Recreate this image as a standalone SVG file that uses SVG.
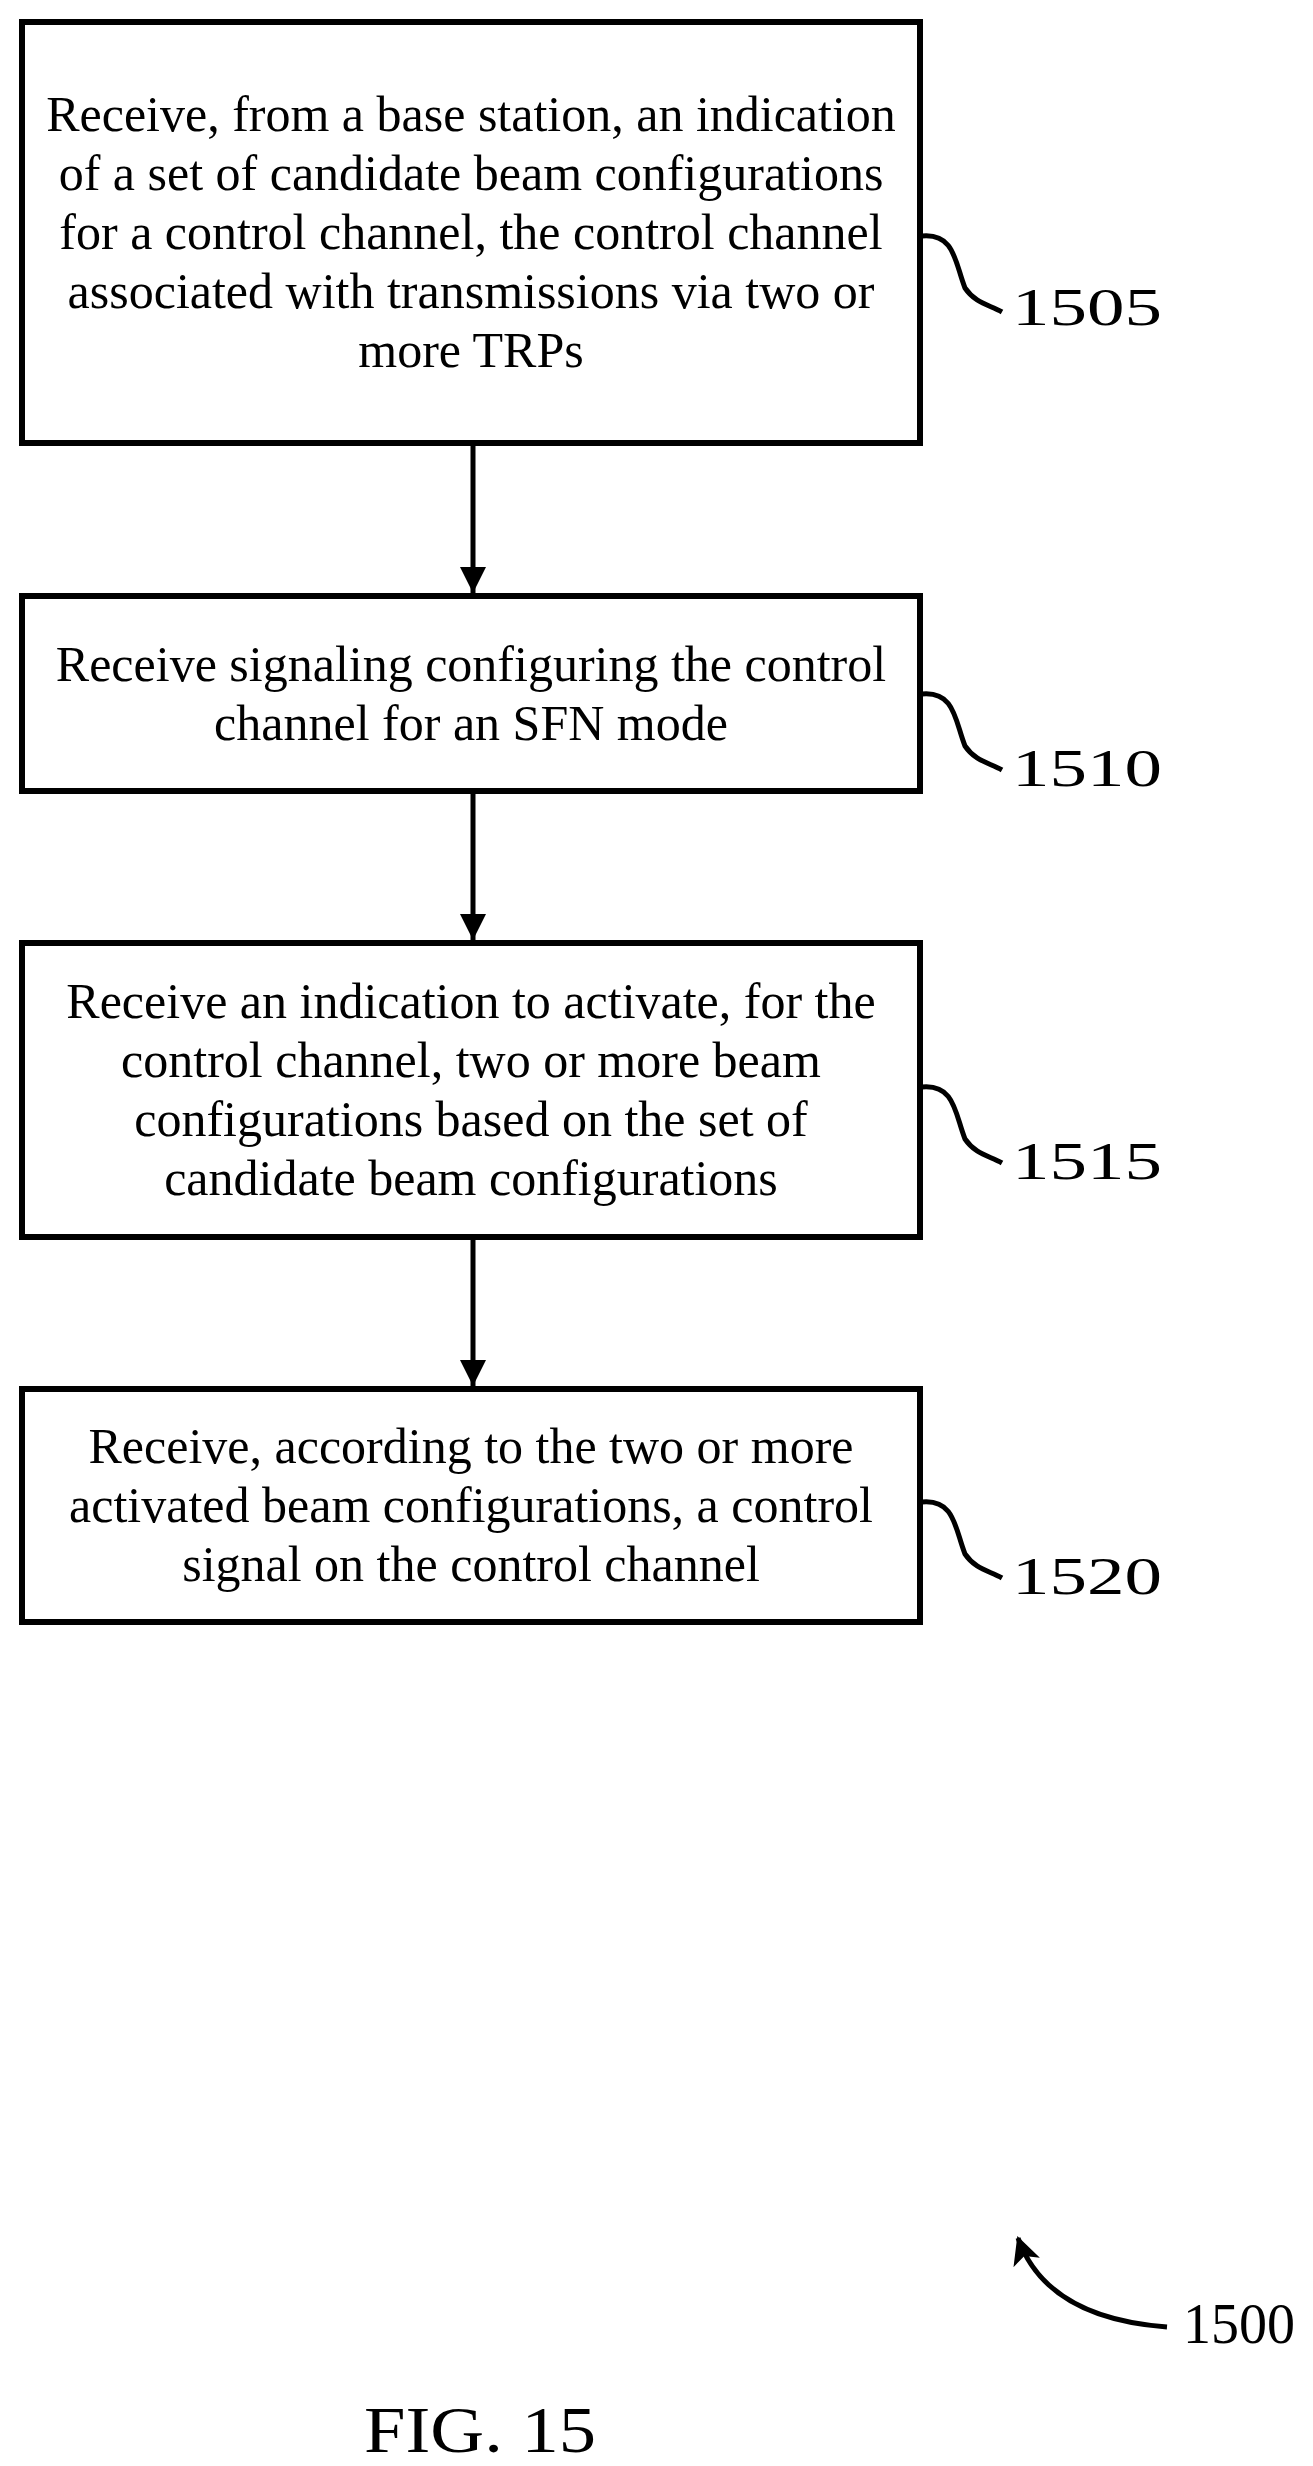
<svg xmlns="http://www.w3.org/2000/svg" width="1313" height="2466" viewBox="0 0 1313 2466">
<style>
.box{fill:#fff;stroke:#000;stroke-width:6}
.t{font-family:"Liberation Serif",serif;font-size:50px;text-anchor:middle;fill:#000}
.lbl{font-family:"Liberation Serif",serif;font-size:52px;fill:#000}
.ln{fill:none;stroke:#000;stroke-width:5}
</style>
<defs>
<marker id="ah" markerWidth="26" markerHeight="30" refX="26" refY="13" orient="auto" markerUnits="userSpaceOnUse"><path d="M0,0 L26,13 L0,26 z" fill="#000"/></marker>
<marker id="ah2" markerWidth="30" markerHeight="30" refX="26" refY="14" orient="auto" markerUnits="userSpaceOnUse"><path d="M0,0 L28,14 L0,28 L7,14 z" fill="#000"/></marker>
</defs>
<rect width="1313" height="2466" fill="#fff"/>
<g id="n1505">
<rect class="box" x="22" y="22" width="898" height="421"/>
<text class="t" x="471" y="131">Receive, from a base station, an indication</text>
<text class="t" x="471" y="190">of a set of candidate beam configurations</text>
<text class="t" x="471" y="249">for a control channel, the control channel</text>
<text class="t" x="471" y="308">associated with transmissions via two or</text>
<text class="t" x="471" y="367">more TRPs</text>
<path class="ln" d="M922,236 C955,233 955,263 965,288 C975,303 990,305 1002,312"/>
<text class="lbl" x="1012" y="325" textLength="150" lengthAdjust="spacingAndGlyphs">1505</text>
</g>
<g id="n1510">
<rect class="box" x="22" y="596" width="898" height="195"/>
<text class="t" x="471" y="681">Receive signaling configuring the control</text>
<text class="t" x="471" y="740">channel for an SFN mode</text>
<path class="ln" d="M922,694 C955,691 955,721 965,746 C975,761 990,763 1002,770"/>
<text class="lbl" x="1012" y="786" textLength="150" lengthAdjust="spacingAndGlyphs">1510</text>
</g>
<g id="n1515">
<rect class="box" x="22" y="943" width="898" height="294"/>
<text class="t" x="471" y="1018">Receive an indication to activate, for the</text>
<text class="t" x="471" y="1077">control channel, two or more beam</text>
<text class="t" x="471" y="1136">configurations based on the set of</text>
<text class="t" x="471" y="1195">candidate beam configurations</text>
<path class="ln" d="M922,1087 C955,1084 955,1114 965,1139 C975,1154 990,1156 1002,1163"/>
<text class="lbl" x="1012" y="1179" textLength="150" lengthAdjust="spacingAndGlyphs">1515</text>
</g>
<g id="n1520">
<rect class="box" x="22" y="1389" width="898" height="233"/>
<text class="t" x="471" y="1463">Receive, according to the two or more</text>
<text class="t" x="471" y="1522">activated beam configurations, a control</text>
<text class="t" x="471" y="1581">signal on the control channel</text>
<path class="ln" d="M922,1502 C955,1499 955,1529 965,1554 C975,1569 990,1571 1002,1578"/>
<text class="lbl" x="1012" y="1594" textLength="150" lengthAdjust="spacingAndGlyphs">1520</text>
</g>
<g id="connectors">
<line class="ln" x1="473" y1="446" x2="473" y2="593" marker-end="url(#ah)"/>
<line class="ln" x1="473" y1="794" x2="473" y2="940" marker-end="url(#ah)"/>
<line class="ln" x1="473" y1="1240" x2="473" y2="1386" marker-end="url(#ah)"/>
</g>
<g id="fig">
<path class="ln" d="M1167,2327 C1100,2322 1040,2300 1018,2238" marker-end="url(#ah2)"/>
<text x="1183" y="2343" style="font-family:'Liberation Serif',serif;font-size:56px">1500</text>
<text x="480" y="2452" text-anchor="middle" textLength="232" lengthAdjust="spacingAndGlyphs" style="font-family:'Liberation Serif',serif;font-size:66px">FIG. 15</text>
</g>
</svg>
